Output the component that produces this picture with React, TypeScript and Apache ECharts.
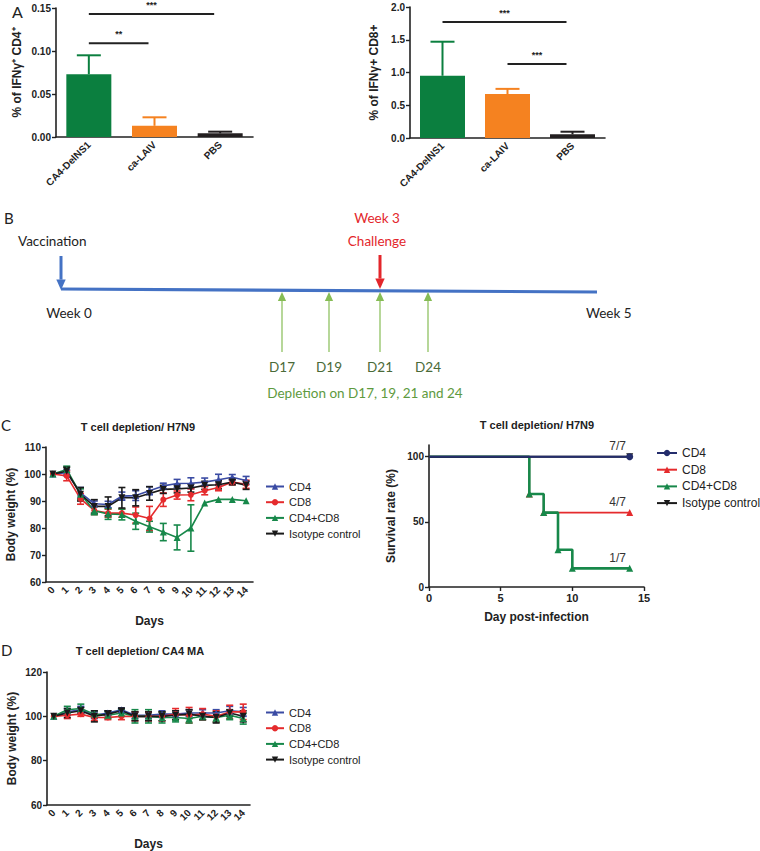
import React, { useEffect, useRef } from 'react';
import * as echarts from 'echarts';

// ---------- Panel A data ----------
const groupLabels = ['CA4-DelNS1', 'ca-LAIV', 'PBS'];
const groupColors = ['#0b7f3f', '#f58220', '#231f20'];
const cd4IfnMean = [0.073, 0.013, 0.0043];
const cd4IfnSem = [0.022, 0.0099, 0.0019];
const cd8IfnMean = [0.95, 0.67, 0.056];
const cd8IfnSem = [0.52, 0.08, 0.04];
const cd4Sig = [
  { from: 0, to: 2, y: 0.143, mark: '***' },
  { from: 0, to: 1, y: 0.109, mark: '**' },
];
const cd8Sig = [
  { from: 0, to: 2, y: 1.77, mark: '***' },
  { from: 1, to: 2, y: 1.13, mark: '***' },
];

// ---------- Panel C / D data ----------
const days = ['0', '1', '2', '3', '4', '5', '6', '7', '8', '9', '10', '11', '12', '13', '14'];
const groupNames = ['CD4', 'CD8', 'CD4+CD8', 'Isotype control'];

const h7n9CD4 = [100, 100.5, 93, 89, 88.7, 91.8, 92, 93.8, 95.6, 96.5, 96.6, 97, 97.9, 98.8, 97.6];
const h7n9CD4Sem = [0, 1, 2, 1, 1.2, 1.5, 1.8, 1.5, 1, 1.5, 2, 1.5, 2, 1, 1.5];
const h7n9CD8 = [100, 99.3, 90.8, 86.5, 85.5, 85.5, 84.8, 83.5, 90.5, 92.2, 92.3, 93.8, 95, 97, 96.2];
const h7n9CD8Sem = [0, 1.8, 2, 1.5, 1.5, 1.5, 3, 4.5, 2.5, 1.5, 2.2, 1.5, 1.2, 1, 1.5];
const h7n9Both = [100, 101.7, 92.5, 86.4, 85.2, 85, 82.5, 80.5, 78.5, 76.5, 80, 89.3, 90.6, 90.6, 90.1];
const h7n9BothSem = [0, 1.2, 2, 1.5, 2, 2, 3, 2, 3.2, 4.6, 8.6, 0, 0, 0, 0];
const h7n9Iso = [100, 101, 92.5, 88, 88, 91.2, 91.2, 92.8, 94.3, 94.5, 94.8, 95.8, 96, 97, 95.8];
const h7n9IsoSem = [0, 1.5, 2.5, 2.5, 3.5, 3.8, 3, 2.5, 1.5, 1.5, 1.5, 1.5, 1.5, 1, 1.5];

const survCD4 = [[0, 100], [14, 100]];
const survCD8 = [[0, 100], [7, 71.4], [8, 57.1], [14, 57.1]];
const survBoth = [[0, 100], [7, 71.4], [8, 57.1], [9, 28.6], [10, 14.3], [14, 14.3]];
const survIso = [[0, 100], [14, 100]];
const survLabels = ['7/7', '4/7', '1/7'];

const ca4CD4 = [100, 102, 103, 100.5, 101.5, 103, 100.5, 100.5, 101, 101, 101.5, 101.5, 101.5, 102.5, 102];
const ca4CD4Sem = [0, 1.5, 1.5, 1.5, 1, 0.8, 1.5, 1.5, 1.5, 1.5, 1.5, 1.5, 1.5, 2, 2];
const ca4CD8 = [100, 100.5, 101, 99.5, 99.5, 100, 100, 100, 100, 101, 100.5, 101, 100, 102, 102];
const ca4CD8Sem = [0, 1.5, 1, 1.5, 1, 1.5, 2, 2, 2, 2.5, 3.5, 2.5, 2.5, 3, 3.5];
const ca4Both = [100, 103, 103.5, 101, 100.5, 101.5, 100, 100, 99.5, 99.5, 99, 100, 99.5, 100.5, 99];
const ca4BothSem = [0, 1.5, 2, 1.5, 1.5, 1.5, 3, 3, 2.5, 2, 2, 1.5, 2, 2, 2.5];
const ca4Iso = [100, 101.5, 102.5, 100, 101, 102.5, 100, 100, 100, 100.5, 101, 100, 99.5, 101.5, 100];
const ca4IsoSem = [0, 2, 1.5, 2.5, 1.5, 1, 2, 2, 2, 2, 2, 1.5, 2.5, 1.5, 2.5];

// ---------- Panel B timeline ----------
const depletionDays = ['D17', 'D19', 'D21', 'D24'];

// ---------- styles ----------
const BLUE = '#3a4ba3';
const RED = '#e52b2d';
const GREEN = '#17884a';
const BLACK = '#1a1a1a';
const NAVY = '#242d6c';
const AX = '#222';
const FONT = "'Liberation Sans', Arial, sans-serif";
const BFONT = "Lato, 'Open Sans', sans-serif";

function errSeries(name: string, vals: number[], sems: number[], color: (i: number) => string, xi: number, cap: number, both: boolean, lw: number) {
  return {
    type: 'custom',
    name,
    xAxisIndex: xi,
    yAxisIndex: xi,
    silent: true,
    z: 3,
    data: vals.map((v, i) => [i, v, sems[i]]),
    encode: { x: 0, y: 1 },
    renderItem: (params: any, api: any) => {
      const i = api.value(0);
      const m = api.value(1);
      const e = api.value(2);
      if (!e) return null;
      const hi = api.coord([i, m + e]);
      const lo = api.coord([i, both ? m - e : m]);
      const st = { stroke: color(params.dataIndex), lineWidth: lw };
      const children: any[] = [
        { type: 'line', shape: { x1: hi[0], y1: hi[1], x2: lo[0], y2: lo[1] }, style: st },
        { type: 'line', shape: { x1: hi[0] - cap, y1: hi[1], x2: hi[0] + cap, y2: hi[1] }, style: st },
      ];
      if (both) children.push({ type: 'line', shape: { x1: lo[0] - cap, y1: lo[1], x2: lo[0] + cap, y2: lo[1] }, style: st });
      return { type: 'group', children };
    },
  };
}

function sigSeries(name: string, sig: { from: number; to: number; y: number; mark: string }[], xi: number) {
  return {
    type: 'custom',
    name,
    xAxisIndex: xi,
    yAxisIndex: xi,
    silent: true,
    z: 4,
    data: sig.map((s) => [s.from, s.to, s.y]),
    encode: { x: 0, y: 2 },
    renderItem: (params: any, api: any) => {
      const a = api.coord([api.value(0), api.value(2)]);
      const b = api.coord([api.value(1), api.value(2)]);
      const x2 = b[0] - 6;
      return {
        type: 'group',
        children: [
          { type: 'line', shape: { x1: a[0], y1: a[1], x2, y2: a[1] }, style: { stroke: '#222', lineWidth: 2 } },
          {
            type: 'text',
            x: (a[0] + x2) / 2,
            y: a[1] - 9,
            style: {
              text: sig[params.dataIndex].mark,
              fill: '#222',
              fontSize: 9,
              fontWeight: 'bold',
              fontFamily: FONT,
              textAlign: 'center',
              textVerticalAlign: 'middle',
              align: 'center',
              verticalAlign: 'middle',
            },
          },
        ],
      };
    },
  };
}

function weightLine(name: string, vals: number[], color: string, symbol: string, xi: number, rotate = 0) {
  return {
    type: 'line',
    name,
    xAxisIndex: xi,
    yAxisIndex: xi,
    data: vals,
    symbol,
    symbolSize: symbol === 'circle' ? 6 : 7,
    symbolRotate: rotate,
    lineStyle: { color, width: 1.6 },
    itemStyle: { color },
    z: 5,
  };
}

function survLine(name: string, pts: number[][], color: string, symbol: string, label: string | null, rotate = 0, z = 5, width = 2) {
  return {
    type: 'line',
    name,
    xAxisIndex: 3,
    yAxisIndex: 3,
    step: 'end',
    symbol,
    symbolSize: 7,
    symbolRotate: rotate,
    lineStyle: { color, width },
    itemStyle: { color },
    z,
    data: pts.map((p, i) => {
      const item: any = { value: p };
      if (i === 0) item.symbol = 'none';
      if (label && i === pts.length - 1) {
        item.label = { show: true, position: 'top', offset: [-12, 4], formatter: label, color: '#333', fontSize: 12, fontFamily: FONT };
      }
      return item;
    }),
  };
}

function catX(gi: number, data: string[], rotate: number, fontSize: number) {
  return {
    type: 'category',
    gridIndex: gi,
    data,
    boundaryGap: true,
    axisLine: { lineStyle: { color: AX, width: 1.6 } },
    axisTick: { alignWithLabel: true, length: 4, lineStyle: { color: AX, width: 1.4 } },
    axisLabel: { rotate, fontSize, fontWeight: 'bold', color: AX, margin: 6, interval: 0, fontFamily: FONT },
    splitLine: { show: false },
  };
}

function valY(gi: number, min: number, max: number, interval: number, name: string, nameGap: number, fmt?: (v: number) => string) {
  return {
    type: 'value',
    gridIndex: gi,
    min,
    max,
    interval,
    name,
    nameLocation: 'middle',
    nameGap,
    nameTextStyle: { fontSize: 12, fontWeight: 'bold', color: AX, fontFamily: FONT },
    axisLine: { show: true, lineStyle: { color: AX, width: 1.6 } },
    axisTick: { show: true, length: 4, lineStyle: { color: AX, width: 1.4 } },
    axisLabel: { fontSize: 10, fontWeight: 'bold', color: AX, margin: 5, fontFamily: FONT, formatter: fmt },
    splitLine: { show: false },
  };
}

function txt(text: string, x: number, y: number, fill: string, fontSize: number, align = 'left') {
  return {
    type: 'text',
    x,
    y,
    style: {
      text,
      fill,
      fontSize,
      fontFamily: BFONT,
      textAlign: align,
      textVerticalAlign: 'middle',
      align,
      verticalAlign: 'middle',
    },
  };
}

function vArrow(x: number, y1: number, y2: number, color: string, width: number, head: number) {
  const dir = y2 > y1 ? 1 : -1;
  const base = y2 - dir * head * 1.3;
  return [
    { type: 'line', shape: { x1: x, y1, x2: x, y2: base }, style: { stroke: color, lineWidth: width } },
    { type: 'polygon', shape: { points: [[x - head / 1.7, base], [x + head / 1.7, base], [x, y2]] }, style: { fill: color } },
  ];
}

function buildOption() {
  const tlY = 290;
  const greenXs = [282, 329, 380, 428];
  const graphic: any[] = [
    txt('A', 12, 11, '#222', 16),
    txt('B', 4, 218, '#222', 15),
    txt('C', 1, 425, '#222', 15),
    txt('D', 1, 650, '#222', 15),
    txt('Vaccination', 18, 241, '#222', 13.5),
    txt('Week 3', 377, 218, '#e3262b', 13.5, 'center'),
    txt('Challenge', 377, 241, '#e3262b', 13.5, 'center'),
    txt('Week 0', 69, 313, '#222', 13.5, 'center'),
    txt('Week 5', 586, 313, '#222', 13.5),
    { type: 'line', shape: { x1: 61, y1: tlY - 1, x2: 597, y2: tlY + 2 }, style: { stroke: '#4472c4', lineWidth: 3.2 } },
    ...vArrow(61, 256, tlY, '#4472c4', 3, 8),
    ...vArrow(380, 255, tlY - 1, '#e3262b', 3, 8),
    ...greenXs.flatMap((x) => vArrow(x, 352, tlY + 2, '#86bc55', 1.2, 7)),
    ...depletionDays.map((d, i) => txt(d, greenXs[i], 367, '#4a6a38', 13.5, 'center')),
    txt('Depletion on D17, 19, 21 and 24', 365, 393, '#5e9a3e', 13.5, 'center'),
  ];

  const colorOf = (i: number) => groupColors[i];
  const legendFmt = (name: string) => name.split('|')[0];

  return {
    animation: false,
    textStyle: { fontFamily: FONT },
    title: [
      { text: 'T cell depletion/ H7N9', left: 138, top: 421, textAlign: 'center', padding: 0, textStyle: { fontSize: 11, fontWeight: 'bold', color: AX, fontFamily: FONT } },
      { text: 'T cell depletion/ H7N9', left: 537, top: 419, textAlign: 'center', padding: 0, textStyle: { fontSize: 11, fontWeight: 'bold', color: AX, fontFamily: FONT } },
      { text: 'T cell depletion/ CA4 MA', left: 140, top: 645, textAlign: 'center', padding: 0, textStyle: { fontSize: 11, fontWeight: 'bold', color: AX, fontFamily: FONT } },
    ],
    grid: [
      { left: 56, top: 8, width: 197, height: 129 },
      { left: 410, top: 7, width: 195, height: 131 },
      { left: 46, top: 447, width: 207, height: 135 },
      { left: 429, top: 445, width: 215, height: 142 },
      { left: 47, top: 672, width: 203, height: 136 },
    ],
    xAxis: [
      catX(0, groupLabels, 45, 10),
      catX(1, groupLabels, 45, 10),
      { ...catX(2, days, 45, 10), name: 'Days', nameLocation: 'middle', nameGap: 33, nameTextStyle: { fontSize: 12, fontWeight: 'bold', color: AX, fontFamily: FONT } },
      {
        type: 'value',
        gridIndex: 3,
        min: 0,
        max: 15,
        interval: 5,
        name: 'Day post-infection',
        nameLocation: 'middle',
        nameGap: 24,
        nameTextStyle: { fontSize: 12, fontWeight: 'bold', color: AX, fontFamily: FONT },
        axisLine: { lineStyle: { color: AX, width: 1.6 } },
        axisTick: { length: 4, lineStyle: { color: AX, width: 1.4 } },
        axisLabel: { fontSize: 11, fontWeight: 'bold', color: AX, margin: 5, fontFamily: FONT },
        splitLine: { show: false },
      },
      { ...catX(4, days, 45, 10), name: 'Days', nameLocation: 'middle', nameGap: 33, nameTextStyle: { fontSize: 12, fontWeight: 'bold', color: AX, fontFamily: FONT } },
    ],
    yAxis: [
      valY(0, 0, 0.15, 0.05, '% of IFNγ⁺ CD4⁺', 33, (v: number) => v.toFixed(2)),
      valY(1, 0, 2, 0.5, '% of IFNγ+ CD8+', 30, (v: number) => v.toFixed(1)),
      valY(2, 60, 110, 10, 'Body weight (%)', 29),
      (() => {
        const y: any = valY(3, 0, 109, 50, 'Survival rate (%)', 32, (v: number) => (v === 0 || v === 50 || v === 100 ? String(v) : ''));
        y.axisLabel.customValues = [0, 50, 100];
        y.axisTick.customValues = [0, 50, 100];
        return y;
      })(),
      valY(4, 60, 120, 20, 'Body weight (%)', 29),
    ],
    legend: [
      {
        orient: 'vertical', left: 265, top: 481, padding: 0, itemWidth: 18, itemHeight: 8, itemGap: 4.7,
        formatter: legendFmt, textStyle: { fontSize: 11, color: '#222', fontFamily: FONT },
        data: groupNames.map((g) => g + '|C'),
        selectedMode: false,
      },
      {
        orient: 'vertical', left: 656, top: 447, padding: 0, itemWidth: 20, itemHeight: 8, itemGap: 4.7,
        formatter: legendFmt, textStyle: { fontSize: 12, color: '#222', fontFamily: FONT },
        data: groupNames.map((g) => g + '|S'),
        selectedMode: false,
      },
      {
        orient: 'vertical', left: 265, top: 707, padding: 0, itemWidth: 18, itemHeight: 8, itemGap: 4.7,
        formatter: legendFmt, textStyle: { fontSize: 11, color: '#222', fontFamily: FONT },
        data: groupNames.map((g) => g + '|D'),
        selectedMode: false,
      },
    ],
    graphic,
    series: [
      {
        type: 'bar', name: 'cd4ifn', xAxisIndex: 0, yAxisIndex: 0, barWidth: 45, z: 2,
        data: cd4IfnMean.map((v, i) => ({ value: v, itemStyle: { color: groupColors[i] } })),
      },
      errSeries('cd4ifnErr', cd4IfnMean, cd4IfnSem, colorOf, 0, 12, false, 2),
      sigSeries('cd4sig', cd4Sig, 0),
      {
        type: 'bar', name: 'cd8ifn', xAxisIndex: 1, yAxisIndex: 1, barWidth: 45, z: 2,
        data: cd8IfnMean.map((v, i) => ({ value: v, itemStyle: { color: groupColors[i] } })),
      },
      errSeries('cd8ifnErr', cd8IfnMean, cd8IfnSem, colorOf, 1, 12, false, 2),
      sigSeries('cd8sig', cd8Sig, 1),
      errSeries('e1', h7n9CD4, h7n9CD4Sem, () => BLUE, 2, 3.5, true, 1.6),
      errSeries('e2', h7n9CD8, h7n9CD8Sem, () => RED, 2, 3.5, true, 1.6),
      errSeries('e3', h7n9Both, h7n9BothSem, () => GREEN, 2, 3.5, true, 1.6),
      errSeries('e4', h7n9Iso, h7n9IsoSem, () => BLACK, 2, 3.5, true, 1.6),
      weightLine('CD4|C', h7n9CD4, BLUE, 'triangle', 2),
      weightLine('CD8|C', h7n9CD8, RED, 'circle', 2),
      weightLine('CD4+CD8|C', h7n9Both, GREEN, 'triangle', 2),
      weightLine('Isotype control|C', h7n9Iso, BLACK, 'triangle', 2, 180),
      survLine('CD8|S', survCD8, RED, 'triangle', survLabels[1], 0, 5, 1.6),
      survLine('CD4+CD8|S', survBoth, GREEN, 'triangle', survLabels[2], 0, 6, 2.6),
      survLine('Isotype control|S', survIso, BLACK, 'triangle', null, 180, 7, 2),
      survLine('CD4|S', survCD4, NAVY, 'circle', survLabels[0], 0, 8, 2),
      errSeries('f1', ca4CD4, ca4CD4Sem, () => BLUE, 4, 3.5, true, 1.6),
      errSeries('f2', ca4CD8, ca4CD8Sem, () => RED, 4, 3.5, true, 1.6),
      errSeries('f3', ca4Both, ca4BothSem, () => GREEN, 4, 3.5, true, 1.6),
      errSeries('f4', ca4Iso, ca4IsoSem, () => BLACK, 4, 3.5, true, 1.6),
      weightLine('CD4|D', ca4CD4, BLUE, 'triangle', 4),
      weightLine('CD8|D', ca4CD8, RED, 'circle', 4),
      weightLine('CD4+CD8|D', ca4Both, GREEN, 'triangle', 4),
      weightLine('Isotype control|D', ca4Iso, BLACK, 'triangle', 4, 180),
    ],
  };
}

export default function App() {
  const ref = useRef<HTMLDivElement>(null);
  useEffect(() => {
    if (!ref.current) return;
    const chart = echarts.init(ref.current, null, { renderer: 'svg' });
    chart.setOption(buildOption() as any);
    return () => chart.dispose();
  }, []);
  return (
    <div
      ref={ref}
      style={{ position: 'absolute', left: 0, top: 0, width: 760, height: 851, background: '#fff' }}
    />
  );
}
